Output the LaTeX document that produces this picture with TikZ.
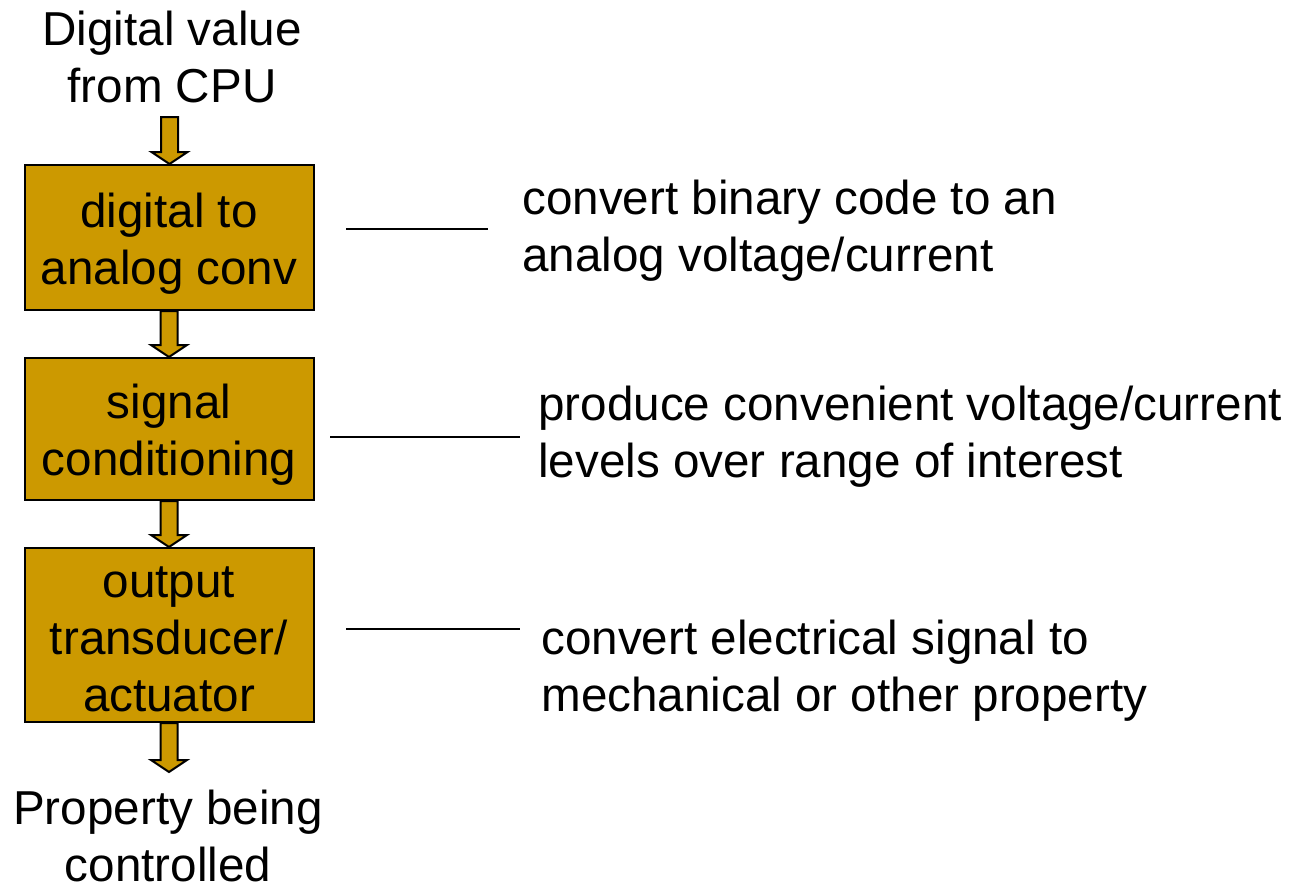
\documentclass[tikz,border=0pt]{standalone}
\usepackage{fontspec}
\setmainfont{Liberation Sans}
\usetikzlibrary{calc}
\definecolor{boxgold}{RGB}{204,153,0}
\tikzset{
  stagebox/.style={draw=black, line width=1pt, fill=boxgold, minimum width=144.5pt, inner sep=0pt},
  lbl/.style={align=center, inner sep=0pt, font=\fontsize{23.8}{28.5}\selectfont},
  desc/.style={align=left, anchor=west, inner sep=0pt, font=\fontsize{23.8}{28.5}\selectfont},
  leader/.style={draw=black, line width=1pt},
  barrow/.style={draw=black, line width=1pt, fill=boxgold, line join=miter}
}
\newcommand{\blockarrow}[2]{%
  \path[barrow] let \p1=(#1), \p2=(#2) in
    (\x1-4.25pt,\y1) -- (\x1+4.25pt,\y1) -- (\x1+4.25pt,\y2+6pt) -- (\x1+9pt,\y2+6pt)
    -- (\x1,\y2) -- (\x1-9pt,\y2+6pt) -- (\x1-4.25pt,\y2+6pt) -- cycle;}
\begin{document}
\begin{tikzpicture}[x=0.5pt,y=-0.5pt]
\useasboundingbox (0,0) rectangle (1291,890);
\node[lbl] (src) at (172,57) {Digital value\\from CPU};
\node[stagebox, minimum height=72.5pt, label={[lbl,yshift=-3pt]center:{digital to\\analog conv}}] (dac) at (169,237.5) {};
\node[stagebox, minimum height=71pt, label={[lbl,yshift=-3pt]center:{signal\\conditioning}}] (sig) at (169,429) {};
\node[stagebox, minimum height=87pt, label={[lbl,yshift=-2pt]center:{output\\transducer/\\actuator}}] (out) at (169,635) {};
\node[lbl] (prop) at (168,836) {Property being\\controlled};
\coordinate (a0) at (169.5,117);
\coordinate (a4) at (169.5,772);
\blockarrow{a0}{dac.north}
\blockarrow{dac.south}{sig.north}
\blockarrow{sig.south}{out.north}
\blockarrow{out.south}{a4}
\node[desc] (d1) at (522,231) {convert binary code to an\\analog voltage/current};
\node[desc] (d2) at (538,437) {produce convenient voltage/current\\levels over range of interest};
\node[desc] (d3) at (541,671) {convert electrical signal to\\mechanical or other property};
\coordinate (l1a) at (346,229); \coordinate (l1b) at (488,229);
\coordinate (l2a) at (330,437); \coordinate (l2b) at (520,437);
\coordinate (l3a) at (346,629); \coordinate (l3b) at (520,629);
\draw[leader] (l1a) -- (l1b);
\draw[leader] (l2a) -- (l2b);
\draw[leader] (l3a) -- (l3b);
\end{tikzpicture}
\end{document}
